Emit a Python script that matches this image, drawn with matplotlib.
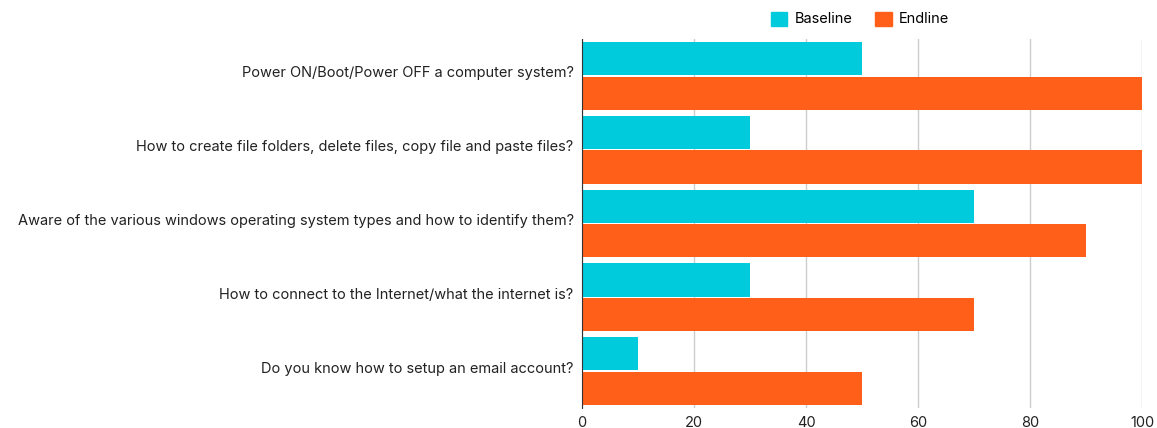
import numpy as np
import matplotlib.pyplot as plt
import matplotlib.transforms as mtransforms
from matplotlib.patches import Patch

plt.rcParams['font.family'] = ['Inter', 'DejaVu Sans']

# Survey questions (top to bottom) and percentages
questions = [
    'Power ON/Boot/Power OFF a computer system?',
    'How to create file folders, delete files, copy file and paste files?',
    'Aware of the various windows operating system types and how to identify them?',
    'How to connect to the Internet/what the internet is?',
    'Do you know how to setup an email account?',
]
baseline = [50, 30, 70, 30, 10]
endline = [100, 100, 90, 70, 50]
xticks = [0, 20, 40, 60, 80, 100]

c_base = '#00CBDC'
c_end = '#FF5F19'

fig = plt.figure(figsize=(11.57, 4.28), dpi=100)
ax = fig.add_axes([582 / 1157, 1 - 408 / 428, 560 / 1157, 369 / 428])

y = np.arange(len(questions))
h = 0.45
ax.barh(y - h / 2 - 0.01, baseline, height=h, color=c_base, zorder=3)
ax.barh(y + h / 2 + 0.01, endline, height=h, color=c_end, zorder=3)

ax.set_ylim(len(questions) - 0.5, -0.5)
ax.set_xlim(0, 100)
ax.set_xticks(xticks)
ax.set_yticks(y)
ax.set_yticklabels(questions)
ax.tick_params(axis='both', length=0, labelsize=10.5, colors='#222222')
ax.tick_params(axis='y', pad=6)
ax.tick_params(axis='x', pad=6)

# nudge the question labels up a little
shift = mtransforms.ScaledTranslation(0, 4 / 100, fig.dpi_scale_trans)
for lab in ax.get_yticklabels():
    lab.set_transform(lab.get_transform() + shift)

ax.grid(axis='x', color='#CCCCCC', linewidth=1, zorder=0)
for s in ['top', 'right', 'bottom']:
    ax.spines[s].set_visible(False)
ax.spines['left'].set_color('#333333')
ax.spines['left'].set_zorder(4)

handles = [Patch(color=c_base, label='Baseline'), Patch(color=c_end, label='Endline')]
fig.legend(handles=handles, loc='center', bbox_to_anchor=(860 / 1157, 1 - 19 / 428),
           ncol=2, frameon=False, fontsize=10.5, handlelength=1.1, handleheight=1.1,
           handletextpad=0.5, columnspacing=1.6)

fig.savefig('out.png', dpi=100)
